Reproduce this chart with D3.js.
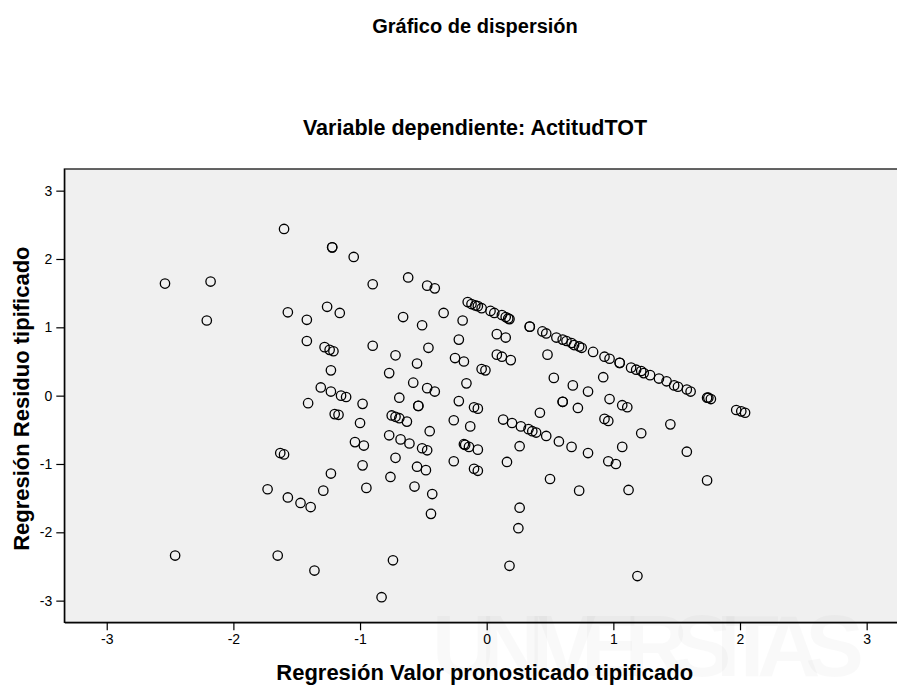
<!DOCTYPE html>
<html>
<head>
<meta charset="utf-8">
<script src="https://cdn.jsdelivr.net/npm/d3@7"></script>
<style>
    html, body { margin: 0; padding: 0; background: #fff; overflow: hidden; }
    svg { display: block; font-family: "Liberation Sans", Arial, sans-serif; }
</style>
</head>
<body>
<svg id="chart" width="897" height="691"></svg>
<script>
// Regresion: valor pronosticado tipificado (x) vs residuo tipificado (y)
var predicted = [
    -1.60, -1.22, -1.22, -1.05, -2.54, -2.18, -1.57, -1.42, -1.26, -1.16,
    -2.21, -1.42, -1.28, -1.24, -1.21, -1.23, -1.31, -1.23, -1.15, -1.11,
    -1.41, -0.98, -1.20, -1.17, -1.00, -1.04, -0.97, -1.63, -1.60, -0.98,
    -1.23, -0.95, -1.29, -1.73, -1.57, -1.47, -1.39, -2.46, -1.65, -1.36,
    -0.90, -0.62, -0.47, -0.41, -0.66, -0.51, -0.34, -0.19,
    -0.15, -0.12, -0.09, -0.07, -0.04, 0.03, 0.06, 0.12, 0.15, 0.17, 0.18,
    0.34, 0.34, 0.44, 0.47, 0.55, 0.60, 0.63, 0.67, 0.69, 0.73, 0.75, 0.84,
    0.08, 0.15, -0.22, -0.90, -0.46, -0.72, -0.55, -0.25, -0.18, 0.08,
    0.12, 0.19, -0.04, -0.01, 0.48, -0.77, -0.16, -0.58, -0.47, -0.41,
    0.53, 0.68, 0.80, -0.69, -0.54, -0.54, -0.22, -0.10, -0.07, 0.60,
    0.60, 0.72, 0.42,
    -0.75, -0.72, -0.69, -0.63, -0.45, -0.26, -0.13,
    0.13, 0.20, 0.27, 0.33, 0.36, 0.39, 0.47, 0.57, 0.67, 0.80,
    -0.77, -0.68, -0.61, -0.51, -0.47, -0.18, -0.17, -0.14, -0.07, 0.26,
    -0.72, -0.26, 0.16, -0.55, -0.48, -0.10, -0.07, -0.76, -0.57, -0.43,
    0.50, 0.73, 0.26, 0.25, -0.44, -0.74, 0.18, -0.83,
    0.93, 0.97, 1.05, 1.05, 1.14, 1.18, 1.22, 1.24, 1.29, 1.36, 1.42,
    1.48, 1.51, 1.58, 1.61, 1.74, 1.75, 1.77, 1.97, 2.01, 2.04,
    0.92, 0.97, 1.07, 1.11,
    0.93, 0.96, 1.45, 1.22, 1.07, 1.58, 0.96, 1.02, 1.12, 1.74, 1.19
];

var residual = [
    2.44, 2.17, 2.17, 2.03, 1.64, 1.67, 1.22, 1.11, 1.30, 1.21,
    1.10, 0.80, 0.71, 0.67, 0.65, 0.37, 0.12, 0.06, 0.00, -0.02,
    -0.11, -0.12, -0.27, -0.28, -0.40, -0.68, -0.73, -0.84, -0.86, -1.02,
    -1.14, -1.35, -1.39, -1.37, -1.49, -1.57, -1.63, -2.34, -2.34, -2.56,
    1.63, 1.73, 1.61, 1.57, 1.15, 1.03, 1.21, 1.10,
    1.37, 1.34, 1.32, 1.31, 1.28, 1.24, 1.21, 1.18, 1.15, 1.13, 1.12,
    1.01, 1.01, 0.94, 0.91, 0.85, 0.82, 0.80, 0.77, 0.74, 0.72, 0.70, 0.64,
    0.90, 0.85, 0.82, 0.73, 0.70, 0.59, 0.47, 0.55, 0.50, 0.60,
    0.57, 0.52, 0.39, 0.37, 0.60, 0.33, 0.18, 0.19, 0.11, 0.06,
    0.26, 0.15, 0.06, -0.03, -0.15, -0.15, -0.08, -0.17, -0.19, -0.09,
    -0.09, -0.18, -0.25,
    -0.29, -0.31, -0.33, -0.38, -0.52, -0.36, -0.45,
    -0.35, -0.40, -0.45, -0.49, -0.52, -0.54, -0.59, -0.67, -0.75, -0.84,
    -0.58, -0.64, -0.70, -0.77, -0.80, -0.71, -0.72, -0.75, -0.79, -0.74,
    -0.91, -0.96, -0.97, -1.04, -1.09, -1.07, -1.10, -1.19, -1.33, -1.44,
    -1.22, -1.39, -1.64, -1.94, -1.73, -2.41, -2.49, -2.95,
    0.57, 0.54, 0.48, 0.48, 0.41, 0.38, 0.36, 0.33, 0.30, 0.25, 0.21,
    0.15, 0.13, 0.09, 0.06, -0.03, -0.03, -0.05, -0.21, -0.23, -0.25,
    0.27, -0.05, -0.14, -0.17,
    -0.34, -0.37, -0.42, -0.55, -0.75, -0.82, -0.96, -1.00, -1.38, -1.24, -2.64
];

var tickValues = [-3, -2, -1, 0, 1, 2, 3];

var title = "Gráfico de dispersión",
    subtitle = "Variable dependiente: ActitudTOT",
    xTitle = "Regresión Valor pronosticado tipificado",
    yTitle = "Regresión Residuo tipificado";

// plot box (the right edge runs past the window, as in the reference)
var plotLeft = 64.3, plotRight = 909.1, plotTop = 169, plotBottom = 622.3;

var svg = d3.select("#chart");

var x = d3.scaleLinear().domain([-3.335, 3.335]).range([plotLeft, plotRight]);
var y = d3.scaleLinear().domain([-3.317, 3.317]).range([plotBottom, plotTop]);

// plot background
svg.append("rect")
    .attr("x", plotLeft)
    .attr("y", plotTop)
    .attr("width", plotRight - plotLeft)
    .attr("height", plotBottom - plotTop)
    .attr("fill", "#f0f0f0")
    .attr("stroke", "#000")
    .attr("stroke-width", 1.2);

// faint watermark seen behind the chart
svg.append("text")
    .attr("x", 432)
    .attr("y", 676)
    .attr("font-size", 88)
    .attr("font-weight", "bold")
    .attr("textLength", 432)
    .attr("fill", "#000")
    .attr("fill-opacity", 0.025)
    .text("UNIVERSITAS");

// axes
var fmt = function(d) { return String(d); };

var xAxis = svg.append("g")
    .attr("transform", "translate(0," + plotBottom + ")")
    .call(d3.axisBottom(x).tickValues(tickValues).tickFormat(fmt).tickSize(8).tickSizeOuter(0).tickPadding(4));

var yAxis = svg.append("g")
    .attr("transform", "translate(" + plotLeft + ",0)")
    .call(d3.axisLeft(y).tickValues(tickValues).tickFormat(fmt).tickSize(8).tickSizeOuter(0).tickPadding(4));

[xAxis, yAxis].forEach(function(g) {
    g.select(".domain").attr("stroke", "#000").attr("stroke-width", 1.2);
    g.selectAll(".tick line").attr("stroke", "#000").attr("stroke-width", 1.2);
    g.selectAll(".tick text")
        .attr("fill", "#000")
        .attr("font-size", 14)
        .attr("font-family", "Liberation Sans, Arial, sans-serif");
});

// points
svg.append("g")
    .selectAll("circle")
    .data(predicted)
    .enter()
    .append("circle")
        .attr("cx", function(d) { return x(d); })
        .attr("cy", function(d, i) { return y(residual[i]); })
        .attr("r", 4.7)
        .attr("fill", "none")
        .attr("stroke", "#000")
        .attr("stroke-width", 1.3);

// titles
svg.append("text")
    .attr("x", 475)
    .attr("y", 33)
    .attr("text-anchor", "middle")
    .attr("font-size", 20)
    .attr("font-weight", "bold")
    .text(title);

svg.append("text")
    .attr("x", 475)
    .attr("y", 135)
    .attr("text-anchor", "middle")
    .attr("font-size", 21.5)
    .attr("font-weight", "bold")
    .text(subtitle);

svg.append("text")
    .attr("x", (plotLeft + plotRight) / 2 - 2)
    .attr("y", 680)
    .attr("text-anchor", "middle")
    .attr("font-size", 22)
    .attr("font-weight", "bold")
    .text(xTitle);

svg.append("text")
    .attr("transform", "translate(29," + ((plotTop + plotBottom) / 2 + 3) + ") rotate(-90)")
    .attr("text-anchor", "middle")
    .attr("font-size", 22)
    .attr("font-weight", "bold")
    .text(yTitle);
</script>
</body>
</html>
